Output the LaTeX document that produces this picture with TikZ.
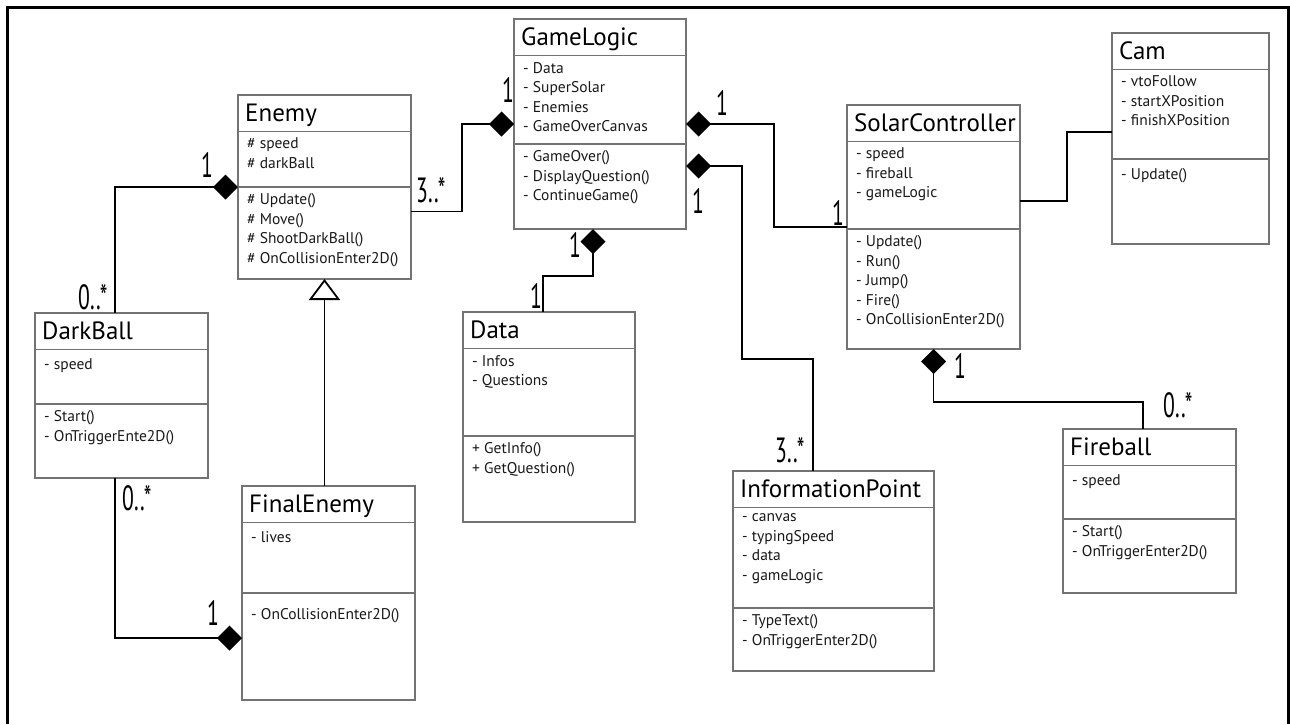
\documentclass[tikz,border=0pt]{standalone}
\usepackage{fontspec}
\setmainfont{PT Sans}
\newfontfamily\multfont[FakeStretch=0.62]{PT Sans}
\usetikzlibrary{arrows.meta}

% one class box: name, x1, y1, x2, y2, divider, title, attributes, operations
\newcommand{\umlclass}[9]{%
	\node[classbox, minimum width={(#4-#2)*1pt}, minimum height={(#5-#3)*1pt}] (#1) at (#2,#3) {};
	\draw[classline] (#2,#3+36.5) -- (#4,#3+36.5) (#2,#6) -- (#4,#6);
	\node[classtitle] (#1-title) at (#2+7,#3+26) {#7};
	\node[classmembers] (#1-attr) at (#2+9,#3+36.5+20-13.65) {#8};
	\node[classmembers] (#1-ops) at (#2+9,#6+20-13.65) {#9};
}

\begin{document}
\begin{tikzpicture}[
	x=1pt, y=-1pt,
	classbox/.style={ rectangle, draw=black!55, line width=1.2pt, fill=white, anchor=north west, inner sep=0pt, outer sep=0pt },
	classline/.style={ draw=black!55, line width=1.2pt },
	classtitle/.style={ anchor=base west, inner sep=0pt, font=\fontsize{25}{30}\selectfont },
	classmembers/.style={ anchor=north west, inner sep=0pt, align=left, text=black!90, font=\fontsize{15.5}{19.5}\selectfont, execute at begin node=\strut },
	assoc/.style={ draw=black, line width=1.8pt },
	comp/.style={ assoc, -{Diamond[length=25pt,width=25pt]} },
	inherit/.style={ assoc, -{Triangle[open,fill=white,length=21pt,width=31pt]} },
	mult/.style={ anchor=base west, inner sep=0pt, font=\multfont\fontsize{35}{35}\selectfont }
]

\useasboundingbox (0,0) rectangle (1290,724);
\draw[line width=3pt] (7.5,724) -- (7.5,7.5) -- (1288.5,7.5) -- (1288.5,724);

\umlclass{enemy}{238}{95}{411}{279}{187}{Enemy}
	{\# speed\\\# darkBall}
	{\# Update()\\\# Move()\\\# ShootDarkBall()\\\# OnCollisionEnter2D()}
\umlclass{darkball}{35}{313}{208}{478}{404}{DarkBall}
	{- speed}
	{- Start()\\- OnTriggerEnte2D()}
\umlclass{finalenemy}{242}{486}{415}{700}{593}{FinalEnemy}
	{- lives}
	{\mbox{}\\- OnCollisionEnter2D()}
\umlclass{gamelogic}{514}{19}{686}{229}{144}{GameLogic}
	{- Data\\- SuperSolar\\- Enemies\\- GameOverCanvas}
	{- GameOver()\\- DisplayQuestion()\\- ContinueGame()}
\umlclass{data}{463}{312}{635}{522}{436}{Data}
	{- Infos\\- Questions}
	{+ GetInfo()\\+ GetQuestion()}
\umlclass{infopoint}{733}{471}{934}{671}{608}{InformationPoint}
	{- canvas\\- typingSpeed\\- data\\- gameLogic}
	{- TypeText()\\- OnTriggerEnter2D()}
\umlclass{solar}{847}{105}{1020}{349}{229}{SolarController}
	{- speed\\- fireball\\- gameLogic}
	{- Update()\\- Run()\\- Jump()\\- Fire()\\- OnCollisionEnter2D()}
\umlclass{cam}{1112}{33}{1269}{244}{159}{Cam}
	{- vtoFollow\\- startXPosition\\- finishXPosition}
	{- Update()}
\umlclass{fireball}{1063}{429}{1236}{593}{519}{Fireball}
	{- speed}
	{- Start()\\- OnTriggerEnter2D()}

\draw[comp] ([xshift=-6.5pt]darkball.north) |- (enemy.west);
\draw[comp] ([xshift=-6.5pt]darkball.south) |- ([yshift=-45pt]finalenemy.west);
\draw[inherit] (finalenemy.north -| enemy.south) -- (enemy.south);
\draw[comp] ([yshift=-24.5pt]enemy.east) -- ++(51,0) |- (gamelogic.west);
\draw[comp] ([xshift=-6pt]data.north) -- ++(0,-36) -| ([xshift=-7pt]gamelogic.south);
\draw[comp] (solar.west) -- ++(-73,0) |- (gamelogic.east);
\draw[comp] ([xshift=-20.5pt]infopoint.north) -- ++(0,-112) -- ++(-71,0) |- ([yshift=-42pt]gamelogic.east);
\draw[assoc] ([yshift=26pt]solar.east) -- ++(47,0) |- ([yshift=6.5pt]cam.west);
\draw[comp] ([xshift=-6.5pt]fireball.north) -- ++(0,-27) -| (solar.south);

\node[mult] (m-enemy-db) at (201,177) {1};
\node[mult] (m-db-enemy) at (78,309) {0..*};
\node[mult] (m-db-fe) at (122,510) {0..*};
\node[mult] (m-fe-db) at (207,625) {1};
\node[mult] (m-enemy-gl) at (416,202) {3..*};
\node[mult] (m-gl-enemy) at (502,102) {1};
\node[mult] (m-gl-data) at (569,257) {1};
\node[mult] (m-data-gl) at (530,308) {1};
\node[mult] (m-gl-solar) at (716,115) {1};
\node[mult] (m-solar-gl) at (832,225) {1};
\node[mult] (m-gl-ip) at (692,213) {1};
\node[mult] (m-ip-gl) at (775,462) {3..*};
\node[mult] (m-solar-fb) at (954,378) {1};
\node[mult] (m-fb-solar) at (1163,417) {0..*};

\end{tikzpicture}
\end{document}
